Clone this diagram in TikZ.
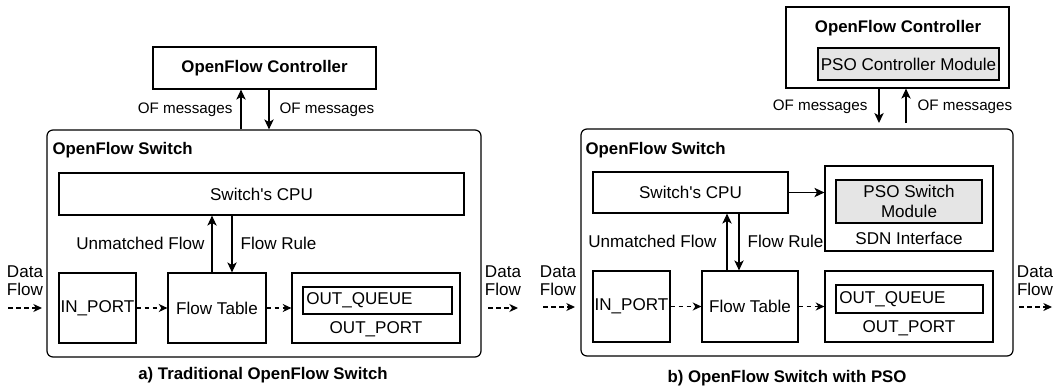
\documentclass[tikz,border=0pt]{standalone}
\usepackage{fontspec}
\setmainfont{Liberation Sans}
\usetikzlibrary{arrows.meta}

\begin{document}
\begin{tikzpicture}[x=0.75pt,y=-0.75pt,line width=0.9pt,
    box/.style={draw,rectangle,inner sep=0pt,font=\fontsize{12.8}{15}\selectfont},
    module/.style={box,fill=gray!20},
    txt/.style={inner sep=0pt,font=\fontsize{12.8}{15}\selectfont,align=center},
    bold/.style={inner sep=0pt,font=\fontsize{12.6}{15}\selectfont\bfseries},
    msg/.style={inner sep=0pt,font=\fontsize{11.4}{14}\selectfont},
    arr/.style={-{Stealth[length=7.5pt,width=7pt,inset=2pt]}},
    flow/.style={-{Stealth[length=6.5pt,width=6pt,inset=2pt]},dash pattern=on 3.5pt off 2.5pt}]
    \useasboundingbox (0,0) rectangle (1062,389);

    % a) traditional switch
    \node[box,font=\fontsize{12.6}{15}\selectfont\bfseries,minimum width=167.25pt,minimum height=31.5pt] (ctrlA) at (264.5,68) {OpenFlow Controller};
    \node[box,rounded corners=4.5pt,minimum width=325.5pt,minimum height=170.25pt] (swA) at (264,243.5) {};
    \node[bold,anchor=west] (swtA) at (52,150) {OpenFlow Switch};
    \node[box,minimum width=303.75pt,minimum height=31.5pt] (cpuA) at (261.5,194) {Switch\textquotesingle s CPU};
    \node[box,minimum width=57.75pt,minimum height=52.5pt] (inA) at (97.5,308) {IN\_PORT};
    \node[box,minimum width=73.5pt,minimum height=52.5pt] (ftA) at (217,308) {Flow Table};
    \node[box,minimum width=126pt,minimum height=52.5pt] (outA) at (376,308) {};
    \node[txt] (outtA) at (376,329) {OUT\_PORT};
    \node[box,minimum width=111.75pt,minimum height=20.25pt] (oqA) at (377.5,300.5) {};
    \node[txt,anchor=west] (oqtA) at ([xshift=2.5pt]oqA.west) {OUT\_QUEUE};

    \coordinate (upA) at (241,0);
    \coordinate (dnA) at (269,0);
    \draw[arr] (swA.north -| upA) -- (ctrlA.south -| upA);
    \draw[arr] (ctrlA.south -| dnA) -- (swA.north -| dnA);
    \node[msg,anchor=east] (ofA1) at (233,110) {OF messages};
    \node[msg,anchor=west] (ofA2) at (279,110) {OF messages};

    \coordinate (umA) at (212,0);
    \coordinate (frA) at (232,0);
    \draw[arr] (ftA.north -| umA) -- (cpuA.south -| umA);
    \draw[arr] (cpuA.south -| frA) -- (ftA.north -| frA);
    \node[txt,anchor=east] (umtA) at (205,243) {Unmatched Flow};
    \node[txt,anchor=west] (frtA) at (240,243) {Flow Rule};

    \node[txt,font=\fontsize{12.8}{13.5}\selectfont] (dfA1) at (25,281) {Data\\Flow};
    \coordinate (dfA1s) at (8,308);
    \coordinate (dfA1e) at (42,308);
    \draw[flow] (dfA1s) -- (dfA1e);
    \draw[flow] (inA) -- (ftA);
    \draw[flow] (ftA) -- (outA);
    \node[txt,font=\fontsize{12.8}{13.5}\selectfont] (dfA2) at (503,281) {Data\\Flow};
    \coordinate (dfA2s) at (488,308);
    \coordinate (dfA2e) at (518,308);
    \draw[flow] (dfA2s) -- (dfA2e);

    \node[bold] (capA) at (263,375) {a) Traditional OpenFlow Switch};

    % b) switch with PSO
    \node[box,minimum width=167.25pt,minimum height=60.75pt] (ctrlB) at (897.5,47.5) {};
    \node[bold] (ctrltB) at (898,28) {OpenFlow Controller};
    \node[module,minimum width=135.75pt,minimum height=24pt] (pcmB) at (908.5,64) {PSO Controller Module};

    \coordinate (dnB) at (879,123);
    \coordinate (upB) at (906,123);
    \draw[arr] (ctrlB.south -| dnB) -- (dnB);
    \draw[arr] (upB) -- (ctrlB.south -| upB);
    \node[msg,anchor=east] (ofB1) at (868,107) {OF messages};
    \node[msg,anchor=west] (ofB2) at (917,107) {OF messages};

    \node[box,rounded corners=4.5pt,minimum width=324pt,minimum height=170.25pt] (swB) at (797,242.5) {};
    \node[bold,anchor=west] (swtB) at (585,150) {OpenFlow Switch};
    \node[box,minimum width=146.25pt,minimum height=30.75pt] (cpuB) at (690.5,192.5) {Switch\textquotesingle s CPU};
    \node[box,minimum width=126pt,minimum height=63.75pt] (sdnB) at (909,208.5) {};
    \node[module,align=center,minimum width=109.5pt,minimum height=32.25pt] (psmB) at (909,201.5) {PSO Switch\\Module};
    \node[txt] (sdntB) at (909,238) {SDN Interface};
    \draw[arr] (cpuB.east) -- (cpuB.east -| sdnB.west);

    \node[box,minimum width=57.75pt,minimum height=53.25pt] (inB) at (631.5,306.5) {IN\_PORT};
    \node[box,minimum width=72pt,minimum height=53.25pt] (ftB) at (750,306.5) {Flow Table};
    \node[box,minimum width=126pt,minimum height=53.25pt] (outB) at (909,306.5) {};
    \node[txt] (outtB) at (909,328) {OUT\_PORT};
    \node[box,minimum width=110.25pt,minimum height=21pt] (oqB) at (909.5,299) {};
    \node[txt,anchor=west] (oqtB) at ([xshift=2.5pt]oqB.west) {OUT\_QUEUE};

    \coordinate (umB) at (727,0);
    \coordinate (frB) at (739,0);
    \draw[arr] (ftB.north -| umB) -- (cpuB.south -| umB);
    \draw[arr] (cpuB.south -| frB) -- (ftB.north -| frB);
    \node[txt,anchor=east] (umtB) at (717,241) {Unmatched Flow};
    \node[txt,anchor=west] (frtB) at (747,241) {Flow Rule};

    \node[txt,font=\fontsize{12.8}{13.5}\selectfont] (dfB1) at (558,281) {Data\\Flow};
    \coordinate (dfB1s) at (543,307);
    \coordinate (dfB1e) at (575,307);
    \draw[flow] (dfB1s) -- (dfB1e);
    \draw[flow] (inB) -- (ftB);
    \draw[flow] (ftB) -- (outB);
    \node[txt,font=\fontsize{12.8}{13.5}\selectfont] (dfB2) at (1035,281) {Data\\Flow};
    \coordinate (dfB2s) at (1019,307);
    \coordinate (dfB2e) at (1052,307);
    \draw[flow] (dfB2s) -- (dfB2e);

    \node[bold] (capB) at (787,378) {b) OpenFlow Switch with PSO};
\end{tikzpicture}
\end{document}
